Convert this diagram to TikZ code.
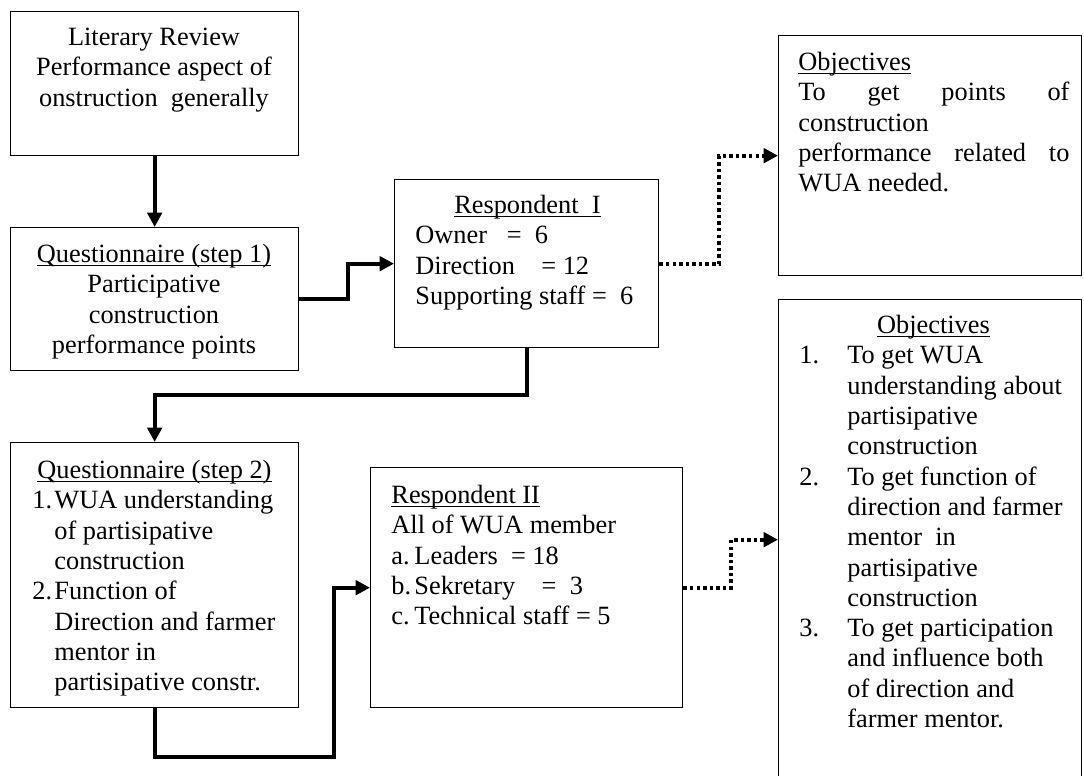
\documentclass[tikz,border=0pt]{standalone}
\usepackage{fontspec}
\setmainfont{Liberation Serif}
\usepackage{tikz}
\usetikzlibrary{positioning,calc,arrows.meta}
\newlength{\pix}
\setlength{\pix}{0.016cm}
\newcommand{\ulin}[1]{\underline{\smash{#1}}}

\begin{document}
\begin{tikzpicture}[x=0.016cm, y=-0.016cm,
    box/.style={draw, line width=0.6pt, anchor=north west, inner sep=0pt},
    txt/.style={inner sep=0pt, font=\fontsize{12}{13.8}\selectfont},
    conn/.style={line width=1.8pt, -{Triangle[length=6.5pt, width=6.5pt]}},
    dotconn/.style={conn, dash pattern=on 1.6pt off 1.4pt}]
        \useasboundingbox (0,0) rectangle (1084,775);

        % boxes
        \node[box, minimum width=288\pix, minimum height=144\pix] (lit) at (10,11) {};
        \node[box, minimum width=288\pix, minimum height=143\pix] (q1) at (10,227) {};
        \node[box, minimum width=264\pix, minimum height=168\pix] (r1) at (394,179) {};
        \node[box, minimum width=288\pix, minimum height=265\pix] (q2) at (10,442) {};
        \node[box, minimum width=312\pix, minimum height=240\pix] (r2) at (370,467) {};
        \node[box, minimum width=303\pix, minimum height=240\pix] (o1) at (778,35) {};
        \node[box, minimum width=303\pix, minimum height=480\pix] (o2) at (778,299) {};

        % texts
        \node[txt, anchor=north, align=center] (litT) at (154,24)
            {\strut Literary Review\\Performance aspect of\\onstruction\ \ generally};
        \node[txt, anchor=north, align=center] (q1T) at (154,241)
            {\strut\ulin{Questionnaire (step 1)}\\Participative\\construction\\performance points};
        \node[txt, anchor=north west, align=left] (r1T) at (415,192)
            {\strut\makebox[224\pix]{\ulin{Respondent\ \ I}}\\Owner\ \ \ =\ \ 6\\Direction\ \ \ \ = 12\\Supporting staff =\ \ 6};
        \node[txt, anchor=north west, align=left] (q2T) at (32,457)
            {\strut\makebox[244\pix]{\ulin{Questionnaire (step 2)}}\\
             \makebox[22\pix][l]{1.}WUA understanding\\\hspace*{22\pix}of partisipative\\\hspace*{22\pix}construction\\
             \makebox[22\pix][l]{2.}Function of\\\hspace*{22\pix}Direction and farmer\\\hspace*{22\pix}mentor in\\\hspace*{22\pix}partisipative constr.};
        \node[txt, anchor=north west, align=left] (r2T) at (391,482)
            {\strut\ulin{Respondent II}\\All of WUA member\\
             \makebox[23\pix][l]{a.}Leaders\ \ = 18\\\makebox[23\pix][l]{b.}Sekretary\ \ \ \ =\ \ 3\\\makebox[23\pix][l]{c.}Technical staff = 5};
        \node[txt, anchor=north west, align=left] (o1T) at (798,49)
            {\strut\ulin{Objectives}\\\makebox[271\pix][s]{To get points of}\\construction\\\makebox[271\pix][s]{performance related to}\\WUA needed.};
        \node[txt, anchor=north west, align=left] (o2T) at (799,312)
            {\strut\makebox[268\pix]{\ulin{Objectives}}\\
             \makebox[48\pix][l]{1.}To get WUA\\\hspace*{48\pix}understanding about\\\hspace*{48\pix}partisipative\\\hspace*{48\pix}construction\\
             \makebox[48\pix][l]{2.}To get function of\\\hspace*{48\pix}direction and farmer\\\hspace*{48\pix}mentor\ \ in\\\hspace*{48\pix}partisipative\\\hspace*{48\pix}construction\\
             \makebox[48\pix][l]{3.}To get participation\\\hspace*{48\pix}and influence both\\\hspace*{48\pix}of direction and\\\hspace*{48\pix}farmer mentor.};

        % connectors
        \draw[conn] (lit) -- (q1);
        \draw[conn] (q1.east) -- ++(49,0) |- (r1.west);
        \draw[conn] (r1.south) -- ++(0,47) -| (q2.north);
        \draw[conn] (q2.south) -- ++(0,49) -- ++(179,0) |- (r2.west);
        \draw[dotconn] (r1.east) -- ++(60,0) |- (o1.west);
        \draw[dotconn] (r2.east) -- ++(48,0) |- (o2.west);
    \end{tikzpicture}
\end{document}
